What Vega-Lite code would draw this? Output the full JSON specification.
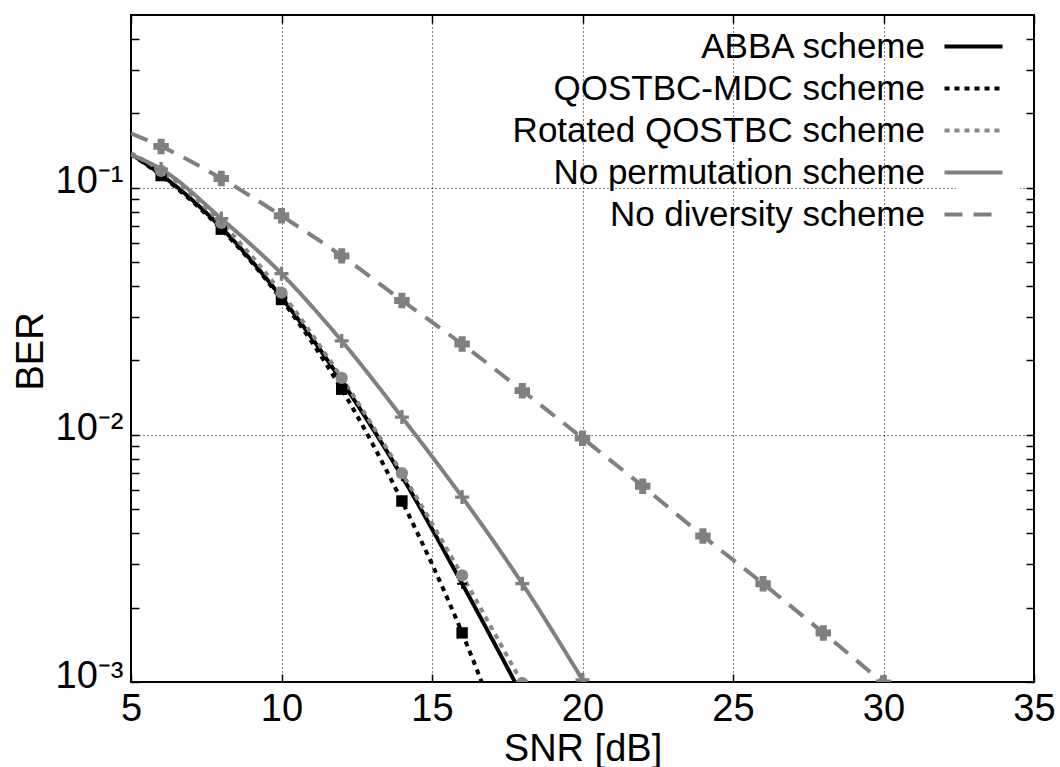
{
  "$schema": "https://vega.github.io/schema/vega-lite/v6.json",
  "width": 903,
  "height": 667,
  "autosize": {"type": "none"},
  "padding": {"left": 131, "top": 15, "right": 26, "bottom": 85},
  "background": "white",
  "config": {
    "font": "Liberation Sans",
    "view": {"stroke": "black", "strokeWidth": 2},
    "axis": {
      "domain": false,
      "tickColor": "black",
      "tickWidth": 1.5,
      "labelColor": "black",
      "labelFontSize": 38,
      "titleColor": "black",
      "titleFontSize": 38,
      "titleFontWeight": "normal",
      "labelOverlap": false,
      "labelFlush": false,
      "gridColor": "black",
      "gridDash": [1, 3],
      "gridWidth": 1
    },
    "legend": {
      "labelFontSize": 35,
      "labelColor": "black",
      "labelLimit": 700
    }
  },
  "data": {
    "values": [
      {"snr": 5, "ber": 0.137, "scheme": "ABBA scheme"},
      {"snr": 6, "ber": 0.113, "scheme": "ABBA scheme"},
      {"snr": 8, "ber": 0.069, "scheme": "ABBA scheme"},
      {"snr": 10, "ber": 0.036, "scheme": "ABBA scheme"},
      {"snr": 12, "ber": 0.0165, "scheme": "ABBA scheme"},
      {"snr": 14, "ber": 0.0068, "scheme": "ABBA scheme"},
      {"snr": 16, "ber": 0.0025, "scheme": "ABBA scheme"},
      {"snr": 18, "ber": 0.00088, "scheme": "ABBA scheme"},
      {"snr": 5, "ber": 0.137, "scheme": "QOSTBC-MDC scheme"},
      {"snr": 6, "ber": 0.112, "scheme": "QOSTBC-MDC scheme"},
      {"snr": 8, "ber": 0.068, "scheme": "QOSTBC-MDC scheme"},
      {"snr": 10, "ber": 0.0353, "scheme": "QOSTBC-MDC scheme"},
      {"snr": 12, "ber": 0.0153, "scheme": "QOSTBC-MDC scheme"},
      {"snr": 14, "ber": 0.0054, "scheme": "QOSTBC-MDC scheme"},
      {"snr": 16, "ber": 0.00158, "scheme": "QOSTBC-MDC scheme"},
      {"snr": 18, "ber": 0.00036, "scheme": "QOSTBC-MDC scheme"},
      {"snr": 5, "ber": 0.138, "scheme": "Rotated QOSTBC scheme"},
      {"snr": 6, "ber": 0.117, "scheme": "Rotated QOSTBC scheme"},
      {"snr": 8, "ber": 0.072, "scheme": "Rotated QOSTBC scheme"},
      {"snr": 10, "ber": 0.0376, "scheme": "Rotated QOSTBC scheme"},
      {"snr": 12, "ber": 0.017, "scheme": "Rotated QOSTBC scheme"},
      {"snr": 14, "ber": 0.007, "scheme": "Rotated QOSTBC scheme"},
      {"snr": 16, "ber": 0.0027, "scheme": "Rotated QOSTBC scheme"},
      {"snr": 18, "ber": 0.00099, "scheme": "Rotated QOSTBC scheme"},
      {"snr": 20, "ber": 0.00037, "scheme": "Rotated QOSTBC scheme"},
      {"snr": 5, "ber": 0.136, "scheme": "No permutation scheme"},
      {"snr": 6, "ber": 0.119, "scheme": "No permutation scheme"},
      {"snr": 8, "ber": 0.075, "scheme": "No permutation scheme"},
      {"snr": 10, "ber": 0.0449, "scheme": "No permutation scheme"},
      {"snr": 12, "ber": 0.024, "scheme": "No permutation scheme"},
      {"snr": 14, "ber": 0.0118, "scheme": "No permutation scheme"},
      {"snr": 16, "ber": 0.0056, "scheme": "No permutation scheme"},
      {"snr": 18, "ber": 0.0025, "scheme": "No permutation scheme"},
      {"snr": 20, "ber": 0.00102, "scheme": "No permutation scheme"},
      {"snr": 22, "ber": 0.0004, "scheme": "No permutation scheme"},
      {"snr": 5, "ber": 0.166, "scheme": "No diversity scheme"},
      {"snr": 6, "ber": 0.147, "scheme": "No diversity scheme"},
      {"snr": 8, "ber": 0.109, "scheme": "No diversity scheme"},
      {"snr": 10, "ber": 0.077, "scheme": "No diversity scheme"},
      {"snr": 12, "ber": 0.053, "scheme": "No diversity scheme"},
      {"snr": 14, "ber": 0.035, "scheme": "No diversity scheme"},
      {"snr": 16, "ber": 0.0233, "scheme": "No diversity scheme"},
      {"snr": 18, "ber": 0.0151, "scheme": "No diversity scheme"},
      {"snr": 20, "ber": 0.0097, "scheme": "No diversity scheme"},
      {"snr": 22, "ber": 0.0062, "scheme": "No diversity scheme"},
      {"snr": 24, "ber": 0.0039, "scheme": "No diversity scheme"},
      {"snr": 26, "ber": 0.0025, "scheme": "No diversity scheme"},
      {"snr": 28, "ber": 0.00158, "scheme": "No diversity scheme"},
      {"snr": 30, "ber": 0.00099, "scheme": "No diversity scheme"}
    ]
  },
  "layer": [
    {
      "mark": {"type": "line", "clip": true, "strokeWidth": 4, "interpolate": "monotone"},
      "encoding": {
        "x": {
          "field": "snr", "type": "quantitative",
          "scale": {"domain": [5, 35], "nice": false, "zero": false},
          "axis": {
            "orient": "bottom", "title": "SNR [dB]",
            "values": [5, 10, 15, 20, 25, 30, 35],
            "grid": true, "tickSize": -8, "labelPadding": 16, "titlePadding": 2
          }
        },
        "y": {
          "field": "ber", "type": "quantitative",
          "scale": {"type": "log", "domain": [0.001, 0.5], "nice": false},
          "axis": {
            "orient": "left", "title": "BER",
            "values": [0.001, 0.002, 0.003, 0.004, 0.005, 0.006, 0.007, 0.008, 0.009, 0.01, 0.02, 0.03, 0.04, 0.05, 0.06, 0.07, 0.08, 0.09, 0.1, 0.2, 0.3, 0.4],
            "labelExpr": "datum.value == 0.1 ? '10⁻¹' : datum.value == 0.01 ? '10⁻²' : datum.value == 0.001 ? '10⁻³' : ''",
            "grid": true,
            "gridOpacity": {"condition": {"test": "datum.value == 0.1 || datum.value == 0.01 || datum.value == 0.001", "value": 1}, "value": 0},
            "tickSize": -8, "labelPadding": 16, "labelOffset": -6,
            "titleX": -89, "titleY": 336, "titleBaseline": "alphabetic", "titleAngle": 270, "titleAlign": "center"
          }
        },
        "color": {
          "field": "scheme", "type": "nominal",
          "scale": {
            "domain": ["ABBA scheme", "QOSTBC-MDC scheme", "Rotated QOSTBC scheme", "No permutation scheme", "No diversity scheme"],
            "range": ["#000000", "#000000", "#888888", "#808080", "#808080"]
          },
          "legend": {
            "title": null, "orient": "top-right", "offset": 14, "padding": 0,
            "symbolType": "M-2,0H2M2.6,0", "symbolSize": 841, "symbolStrokeWidth": 4,
            "labelAlign": "right", "labelOffset": -66, "rowPadding": 6,
            "fillColor": "white"
          }
        },
        "strokeDash": {
          "field": "scheme", "type": "nominal",
          "scale": {
            "domain": ["ABBA scheme", "QOSTBC-MDC scheme", "Rotated QOSTBC scheme", "No permutation scheme", "No diversity scheme"],
            "range": [[1, 0], [5, 5], [5, 5], [1, 0], [18, 11]]
          },
          "legend": {
            "title": null, "orient": "top-right", "offset": 14, "padding": 0,
            "symbolType": "M-2,0H2M2.6,0", "symbolSize": 841, "symbolStrokeWidth": 4,
            "labelAlign": "right", "labelOffset": -66, "rowPadding": 6,
            "fillColor": "white"
          }
        }
      }
    },
    {
      "transform": [{"filter": "datum.snr >= 6 && datum.scheme == 'ABBA scheme'"}],
      "mark": {"type": "point", "clip": true, "filled": true, "opacity": 1, "strokeWidth": 0, "color": "#000000", "size": 100,
        "shape": "M-0.2,-1H0.2V-0.2H1V0.2H0.2V1H-0.2V0.2H-1V-0.2H-0.2Z"},
      "encoding": {
        "x": {"field": "snr", "type": "quantitative", "axis": null},
        "y": {"field": "ber", "type": "quantitative", "axis": null}
      }
    },
    {
      "transform": [{"filter": "datum.snr >= 6 && datum.scheme == 'QOSTBC-MDC scheme'"}],
      "mark": {"type": "point", "clip": true, "filled": true, "opacity": 1, "strokeWidth": 0, "color": "#000000", "size": 130, "shape": "square"},
      "encoding": {
        "x": {"field": "snr", "type": "quantitative", "axis": null},
        "y": {"field": "ber", "type": "quantitative", "axis": null}
      }
    },
    {
      "transform": [{"filter": "datum.snr >= 6 && datum.scheme == 'Rotated QOSTBC scheme'"}],
      "mark": {"type": "point", "clip": true, "filled": true, "opacity": 1, "strokeWidth": 0, "color": "#888888", "size": 150, "shape": "circle"},
      "encoding": {
        "x": {"field": "snr", "type": "quantitative", "axis": null},
        "y": {"field": "ber", "type": "quantitative", "axis": null}
      }
    },
    {
      "transform": [{"filter": "datum.snr >= 6 && datum.scheme == 'No permutation scheme'"}],
      "mark": {"type": "point", "clip": true, "filled": true, "opacity": 1, "strokeWidth": 0, "color": "#808080", "size": 196,
        "shape": "M-0.24,-1H0.24V-0.24H1V0.24H0.24V1H-0.24V0.24H-1V-0.24H-0.24Z"},
      "encoding": {
        "x": {"field": "snr", "type": "quantitative", "axis": null},
        "y": {"field": "ber", "type": "quantitative", "axis": null}
      }
    },
    {
      "transform": [{"filter": "datum.snr >= 6 && datum.scheme == 'No diversity scheme'"}],
      "mark": {"type": "point", "clip": true, "filled": true, "opacity": 1, "strokeWidth": 0, "color": "#808080", "size": 240,
        "shape": "M-0.45,-1H0.45V-0.45H1V0.45H0.45V1H-0.45V0.45H-1V-0.45H-0.45Z"},
      "encoding": {
        "x": {"field": "snr", "type": "quantitative", "axis": null},
        "y": {"field": "ber", "type": "quantitative", "axis": null}
      }
    },
    {
      "mark": {"type": "point", "opacity": 0},
      "encoding": {
        "x": {
          "field": "snr", "type": "quantitative",
          "axis": {"orient": "top", "title": null, "labels": false, "grid": false, "values": [5, 10, 15, 20, 25, 30, 35], "tickSize": -8}
        },
        "y": {
          "field": "ber", "type": "quantitative",
          "axis": {"orient": "right", "title": null, "labels": false, "grid": false,
            "values": [0.001, 0.002, 0.003, 0.004, 0.005, 0.006, 0.007, 0.008, 0.009, 0.01, 0.02, 0.03, 0.04, 0.05, 0.06, 0.07, 0.08, 0.09, 0.1, 0.2, 0.3, 0.4],
            "tickSize": -8}
        }
      }
    }
  ],
  "resolve": {"axis": {"x": "independent", "y": "independent"}}
}
